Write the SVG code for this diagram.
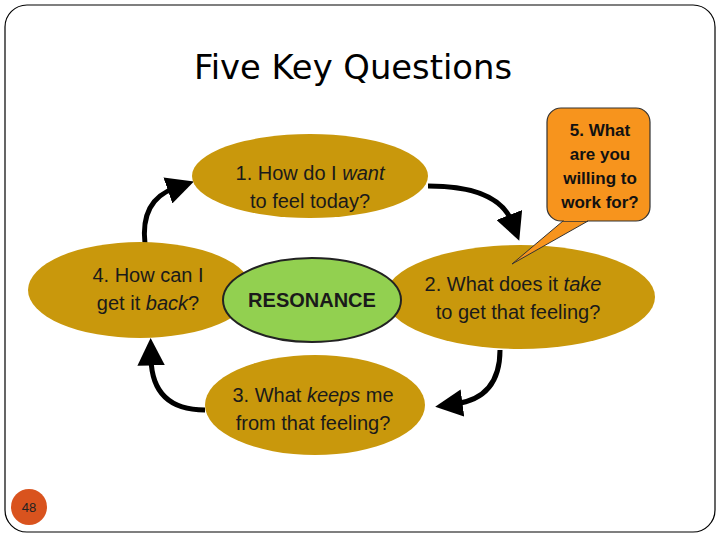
<svg xmlns="http://www.w3.org/2000/svg" width="720" height="540" viewBox="0 0 720 540">
<style>
.g{fill:#C9980C}
.t{font-family:"Liberation Sans",Arial,sans-serif;font-size:20px;fill:#1a1a1a;text-anchor:middle}
.c{fill:none;stroke:#000;stroke-width:5}
</style>
<defs>
<marker id="ah" markerWidth="5.5" markerHeight="5.5" refX="1.5" refY="2.75" orient="auto" markerUnits="strokeWidth">
<path d="M0,0 L5.5,2.75 L0,5.5 Z" fill="#000"/>
</marker>
</defs>
<rect x="5" y="5" width="710" height="527" rx="22" fill="#fff" stroke="#000" stroke-width="1.2"/>
<text x="353" y="79" font-family="'DejaVu Sans Condensed','DejaVu Sans',sans-serif" font-size="33" text-anchor="middle" fill="#000" textLength="318" lengthAdjust="spacingAndGlyphs">Five Key Questions</text>
<g id="connectors">
<path class="c" d="M145,244 Q140,200 175,188" marker-end="url(#ah)"/>
<path class="c" d="M428,186 Q498,186 512,222" marker-end="url(#ah)"/>
<path class="c" d="M500,350 Q500,398 455,404" marker-end="url(#ah)"/>
<path class="c" d="M205,410 Q152,410 151,358" marker-end="url(#ah)"/>
</g>
<g id="n1"><ellipse class="g" cx="310" cy="176" rx="118" ry="42"/>
<text class="t" x="310" y="180">1.  How do I <tspan font-style="italic">want</tspan></text>
<text class="t" x="310" y="208">to feel today?</text></g>
<g id="n4"><ellipse class="g" cx="140" cy="290" rx="112" ry="48"/>
<text class="t" x="148" y="282">4.  How can I</text>
<text class="t" x="148" y="310">get it <tspan font-style="italic">back</tspan>?</text></g>
<g id="n2"><ellipse class="g" cx="520" cy="297" rx="135" ry="52"/>
<text class="t" x="513" y="291">2. What does it <tspan font-style="italic">take</tspan></text>
<text class="t" x="518" y="319">to get that feeling?</text></g>
<g id="n3"><ellipse class="g" cx="315" cy="405" rx="110" ry="50"/>
<text class="t" x="313" y="402">3.  What <tspan font-style="italic">keeps</tspan> me</text>
<text class="t" x="313" y="430">from that feeling?</text></g>
<g id="center"><ellipse cx="312" cy="300" rx="89" ry="42" fill="#92D050" stroke="#222" stroke-width="2"/>
<text class="t" x="312" y="307" font-weight="bold" font-size="20">RESONANCE</text></g>
<g id="n5">
<path d="M563,221 L512,264 L588,221 Z" fill="#F7941D" stroke="#333" stroke-width="1"/>
<rect x="547" y="108" width="103" height="113" rx="14" fill="#F7941D" stroke="#333" stroke-width="1.2"/>
<path d="M564,220 L587,220" stroke="#F7941D" stroke-width="2"/>
<g font-family="'Liberation Sans',Arial,sans-serif" font-size="17" font-weight="bold" text-anchor="middle" fill="#111">
<text x="600" y="136">5. What</text><text x="600" y="160">are you</text><text x="600" y="184">willing to</text><text x="600" y="208">work for?</text></g>
</g>
<g id="page"><circle cx="29" cy="507" r="18" fill="#D9531E"/>
<text x="29" y="512" font-family="'Liberation Sans',Arial,sans-serif" font-size="13" text-anchor="middle" fill="#222">48</text></g>
</svg>
